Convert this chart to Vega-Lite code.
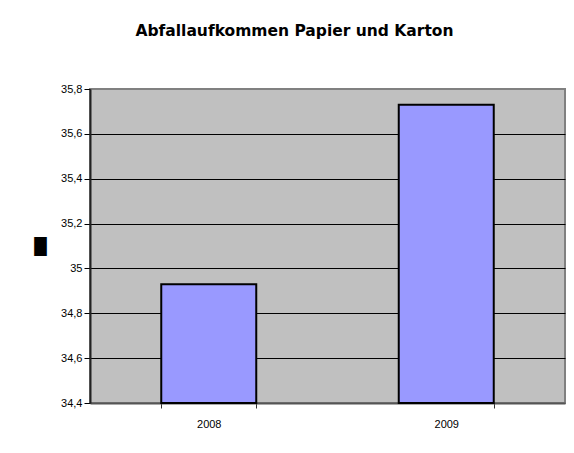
{
  "$schema": "https://vega.github.io/schema/vega-lite/v6.json",
  "width": 475,
  "height": 314,
  "autosize": "none",
  "padding": {"left": 90, "top": 89, "right": 9, "bottom": 50},
  "background": "white",
  "title": {
    "text": "Abfallaufkommen Papier und Karton",
    "anchor": "middle",
    "frame": "group",
    "dx": -33,
    "offset": 44,
    "font": "DejaVu Sans",
    "fontSize": 15.5,
    "fontWeight": "bold",
    "color": "black"
  },
  "data": {
    "values": [
      {"Jahr": "2008", "Wert": 34.93},
      {"Jahr": "2009", "Wert": 35.73}
    ]
  },
  "mark": {"type": "bar", "fill": "#9999FF", "stroke": "black", "strokeWidth": 2},
  "encoding": {
    "x": {
      "field": "Jahr",
      "type": "nominal",
      "scale": {"paddingInner": 0.6, "paddingOuter": 0.3},
      "axis": {
        "title": null,
        "labelAngle": 0,
        "labelFont": "Liberation Sans",
        "labelFontSize": 11,
        "labelColor": "black",
        "labelPadding": 10,
        "tickBand": "extent",
        "tickSize": 5,
        "tickColor": "#333333",
        "tickWidth": 1,
        "domainColor": "#555555",
        "domainWidth": 2,
        "grid": false
      }
    },
    "y": {
      "field": "Wert",
      "type": "quantitative",
      "scale": {"domain": [34.4, 35.8], "zero": false, "nice": false},
      "axis": {
        "title": "█",
        "titleAngle": 0,
        "titleAlign": "center",
        "titleBaseline": "middle",
        "titleX": -50,
        "titleY": 157,
        "titleFont": "DejaVu Sans",
        "titleFontSize": 16,
        "titleColor": "black",
        "values": [34.4, 34.6, 34.8, 35.0, 35.2, 35.4, 35.6, 35.8],
        "labelExpr": "replace(format(datum.value, '.1~f'), '.', ',')",
        "labelFont": "Liberation Sans",
        "labelFontSize": 11,
        "labelColor": "black",
        "labelPadding": 2,
        "tickSize": 6,
        "tickColor": "black",
        "domainColor": "#222222",
        "domainWidth": 2,
        "grid": true,
        "gridColor": {"condition": {"test": "datum.value > 35.79 || datum.value < 34.41", "value": "transparent"}, "value": "black"},
        "gridWidth": 1
      }
    },
    "y2": {"datum": 34.4}
  },
  "config": {
    "view": {"fill": "#C0C0C0", "stroke": "#808080", "strokeWidth": 2}
  }
}
